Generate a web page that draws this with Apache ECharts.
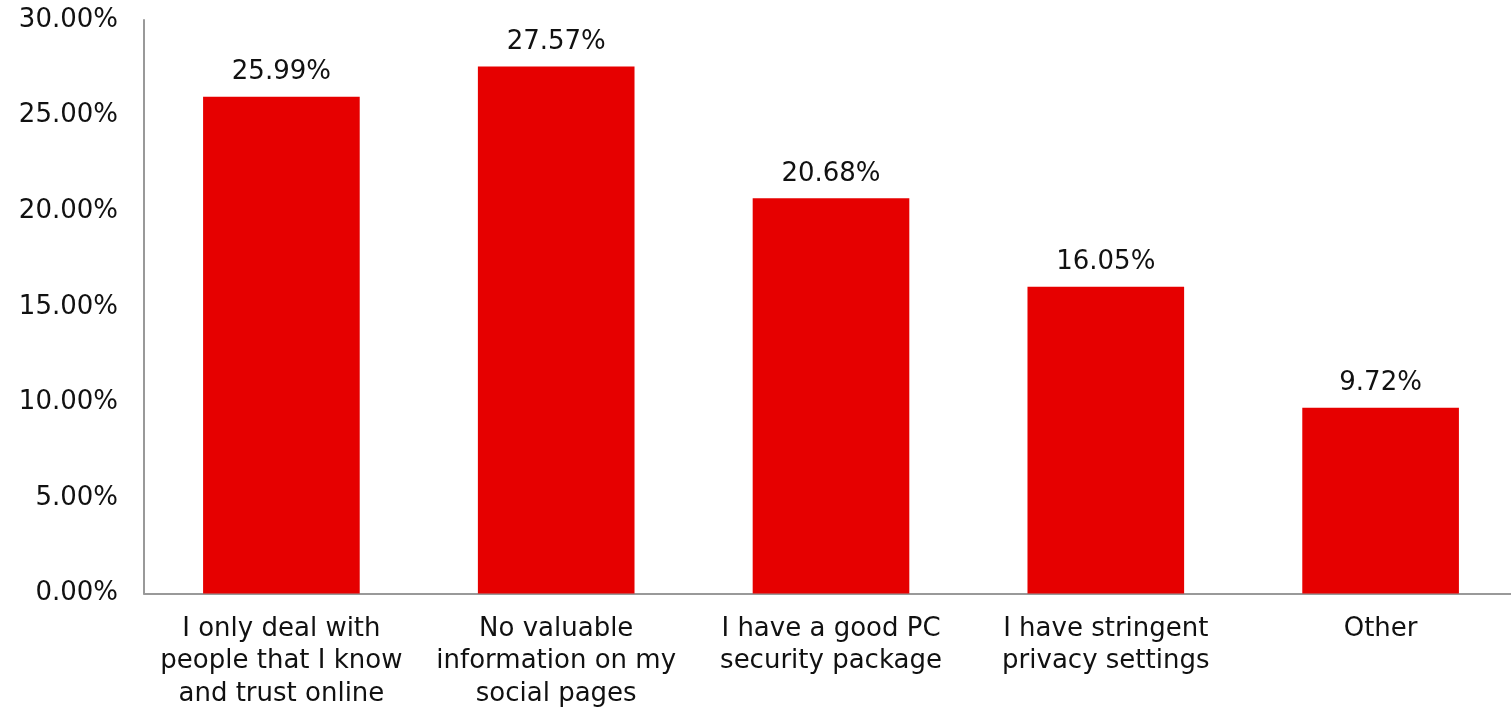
<!DOCTYPE html>
<html>
<head>
<meta charset="utf-8">
<script src="https://cdn.jsdelivr.net/npm/echarts@6/dist/echarts.min.js"></script>
<style>
html,body{margin:0;padding:0;background:#fff;overflow:hidden;}
#wrap{width:1511px;height:710px;overflow:hidden;}
#chart{width:1518px;height:710px;}
</style>
</head>
<body>
<div id="wrap"><div id="chart"></div></div>
<script>
const categories = [
  "I only deal with\npeople that I know\nand trust online",
  "No valuable\ninformation on my\nsocial pages",
  "I have a good PC\nsecurity package",
  "I have stringent\nprivacy settings",
  "Other"
];
const values = [25.99, 27.57, 20.68, 16.05, 9.72];
const yTicks = { min: 0, max: 30, interval: 5 };

const font = "DejaVu Sans";
const chart = echarts.init(document.getElementById('chart'));
chart.setOption({
  animation: false,
  textStyle: { fontFamily: font },
  grid: { left: 144, right: 0, top: 20, bottom: 116, containLabel: false },
  xAxis: {
    type: 'category',
    data: categories,
    axisLine: { lineStyle: { color: '#999', width: 2 } },
    axisTick: { show: false },
    axisLabel: { color: '#111', fontSize: 26, lineHeight: 32.5, margin: 19, interval: 0, fontFamily: font }
  },
  yAxis: {
    type: 'value',
    min: yTicks.min, max: yTicks.max, interval: yTicks.interval,
    axisLine: { show: true, lineStyle: { color: '#999', width: 2 } },
    axisTick: { show: false },
    splitLine: { show: false },
    axisLabel: { color: '#111', fontSize: 26, margin: 26, fontFamily: font,
      formatter: v => v.toFixed(2) + '%' }
  },
  series: [{
    type: 'bar',
    data: values,
    barWidth: '57%',
    itemStyle: { color: '#E60000' },
    label: { show: true, position: 'top', distance: 11, color: '#111', fontSize: 26, fontFamily: font,
      formatter: p => p.value.toFixed(2) + '%' }
  }]
});
</script>
</body>
</html>
